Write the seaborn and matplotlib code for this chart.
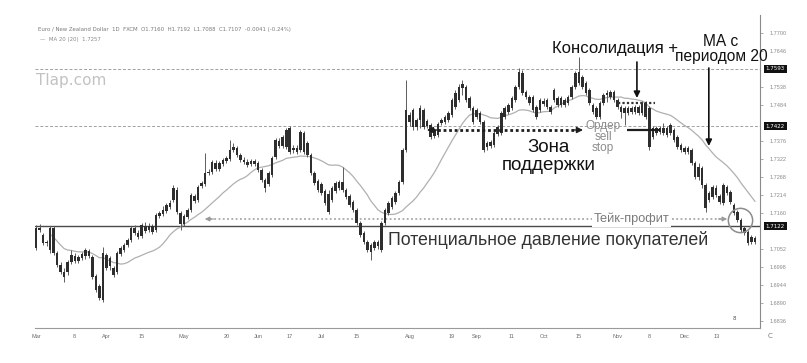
import numpy as np
import pandas as pd
import matplotlib
matplotlib.use("Agg")
import matplotlib.pyplot as plt
import seaborn as sns
from matplotlib.transforms import blended_transform_factory

# ---------------- data (EUR/NZD daily candles) ----------------
opens = [1.7056, 1.7116, 1.7095, 1.7071, 1.7050, 1.7116, 1.7041, 1.7005, 1.6984, 1.6984,
         1.7014, 1.7032, 1.7017, 1.7026, 1.7032, 1.7047, 1.7029, 1.6972, 1.6942, 1.6900,
         1.7035, 1.7002, 1.6996, 1.6984, 1.7038, 1.7050, 1.7065, 1.7080, 1.7116, 1.7101,
         1.7092, 1.7122, 1.7110, 1.7122, 1.7110, 1.7152, 1.7158, 1.7167, 1.7179, 1.7200,
         1.7230, 1.7161, 1.7128, 1.7149, 1.7170, 1.7212, 1.7200, 1.7242, 1.7248, 1.7281,
         1.7284, 1.7311, 1.7293, 1.7308, 1.7317, 1.7323, 1.7350, 1.7356, 1.7335, 1.7320,
         1.7314, 1.7308, 1.7317, 1.7311, 1.7290, 1.7260, 1.7248, 1.7275, 1.7329, 1.7377,
         1.7362, 1.7359, 1.7416, 1.7350, 1.7356, 1.7350, 1.7401, 1.7371, 1.7335, 1.7281,
         1.7257, 1.7248, 1.7227, 1.7218, 1.7200, 1.7227, 1.7236, 1.7254, 1.7230, 1.7212,
         1.7194, 1.7170, 1.7131, 1.7101, 1.7074, 1.7065, 1.7056, 1.7062, 1.7050, 1.7131,
         1.7161, 1.7179, 1.7194, 1.7221, 1.7254, 1.7350, 1.7455, 1.7470, 1.7419, 1.7440,
         1.7470, 1.7422, 1.7425, 1.7410, 1.7395, 1.7431, 1.7434, 1.7440, 1.7455, 1.7479,
         1.7500, 1.7536, 1.7539, 1.7506, 1.7476, 1.7449, 1.7461, 1.7434, 1.7359, 1.7362,
         1.7365, 1.7398, 1.7401, 1.7449, 1.7464, 1.7476, 1.7500, 1.7539, 1.7581, 1.7524,
         1.7509, 1.7509, 1.7479, 1.7470, 1.7497, 1.7500, 1.7479, 1.7500, 1.7506, 1.7485,
         1.7485, 1.7491, 1.7509, 1.7539, 1.7551, 1.7569, 1.7551, 1.7530, 1.7485, 1.7476,
         1.7449, 1.7491, 1.7515, 1.7524, 1.7524, 1.7500, 1.7479, 1.7476, 1.7461, 1.7476,
         1.7464, 1.7479, 1.7461, 1.7491, 1.7476, 1.7389, 1.7416, 1.7404, 1.7416, 1.7416,
         1.7401, 1.7410, 1.7389, 1.7365, 1.7356, 1.7344, 1.7350, 1.7311, 1.7269, 1.7296,
         1.7245, 1.7200, 1.7209, 1.7236, 1.7212, 1.7191, 1.7239, 1.7224, 1.7185, 1.7164,
         1.7140, 1.7116, 1.7104, 1.7089, 1.7086]
closes = [1.7116, 1.7110, 1.7071, 1.7074, 1.7116, 1.7041, 1.7005, 1.6984, 1.6969, 1.7014,
          1.7035, 1.7017, 1.7029, 1.7038, 1.7050, 1.7032, 1.6969, 1.6930, 1.6906, 1.7041,
          1.6996, 1.7026, 1.6975, 1.7041, 1.7056, 1.7065, 1.7080, 1.7116, 1.7101, 1.7089,
          1.7125, 1.7107, 1.7122, 1.7104, 1.7155, 1.7161, 1.7170, 1.7185, 1.7191, 1.7236,
          1.7164, 1.7128, 1.7152, 1.7170, 1.7215, 1.7197, 1.7239, 1.7251, 1.7281, 1.7284,
          1.7314, 1.7293, 1.7311, 1.7320, 1.7326, 1.7350, 1.7359, 1.7335, 1.7320, 1.7314,
          1.7305, 1.7317, 1.7308, 1.7290, 1.7260, 1.7236, 1.7281, 1.7326, 1.7380, 1.7362,
          1.7389, 1.7410, 1.7344, 1.7356, 1.7344, 1.7404, 1.7344, 1.7335, 1.7281, 1.7251,
          1.7230, 1.7221, 1.7191, 1.7164, 1.7236, 1.7251, 1.7254, 1.7230, 1.7209, 1.7185,
          1.7170, 1.7131, 1.7095, 1.7074, 1.7050, 1.7044, 1.7074, 1.7074, 1.7131, 1.7170,
          1.7191, 1.7206, 1.7221, 1.7254, 1.7350, 1.7470, 1.7434, 1.7419, 1.7440, 1.7476,
          1.7419, 1.7437, 1.7389, 1.7392, 1.7428, 1.7440, 1.7449, 1.7461, 1.7500, 1.7521,
          1.7539, 1.7548, 1.7500, 1.7476, 1.7434, 1.7470, 1.7434, 1.7350, 1.7371, 1.7374,
          1.7401, 1.7419, 1.7461, 1.7476, 1.7485, 1.7506, 1.7539, 1.7584, 1.7521, 1.7509,
          1.7491, 1.7470, 1.7449, 1.7500, 1.7488, 1.7479, 1.7464, 1.7530, 1.7485, 1.7506,
          1.7500, 1.7509, 1.7539, 1.7581, 1.7584, 1.7539, 1.7521, 1.7491, 1.7464, 1.7449,
          1.7491, 1.7515, 1.7521, 1.7509, 1.7500, 1.7479, 1.7464, 1.7461, 1.7476, 1.7464,
          1.7479, 1.7461, 1.7491, 1.7449, 1.7359, 1.7416, 1.7401, 1.7416, 1.7401, 1.7395,
          1.7425, 1.7380, 1.7359, 1.7350, 1.7344, 1.7356, 1.7311, 1.7269, 1.7299, 1.7245,
          1.7176, 1.7221, 1.7239, 1.7215, 1.7194, 1.7245, 1.7221, 1.7194, 1.7161, 1.7140,
          1.7110, 1.7101, 1.7071, 1.7074, 1.7074]
highs = [1.7125, 1.7128, 1.7101, 1.7080, 1.7122, 1.7122, 1.7047, 1.7014, 1.6996, 1.7020,
         1.7050, 1.7041, 1.7035, 1.7044, 1.7056, 1.7053, 1.7035, 1.6978, 1.6948, 1.7059,
         1.7041, 1.7032, 1.7002, 1.7047, 1.7062, 1.7071, 1.7086, 1.7122, 1.7125, 1.7110,
         1.7131, 1.7134, 1.7131, 1.7128, 1.7161, 1.7167, 1.7182, 1.7191, 1.7200, 1.7245,
         1.7239, 1.7167, 1.7158, 1.7176, 1.7221, 1.7218, 1.7245, 1.7257, 1.7341, 1.7293,
         1.7320, 1.7320, 1.7317, 1.7326, 1.7332, 1.7380, 1.7371, 1.7362, 1.7341, 1.7329,
         1.7323, 1.7323, 1.7323, 1.7317, 1.7296, 1.7266, 1.7287, 1.7332, 1.7386, 1.7386,
         1.7395, 1.7416, 1.7422, 1.7365, 1.7365, 1.7410, 1.7407, 1.7377, 1.7341, 1.7287,
         1.7263, 1.7254, 1.7233, 1.7230, 1.7242, 1.7257, 1.7260, 1.7299, 1.7236, 1.7218,
         1.7200, 1.7176, 1.7137, 1.7107, 1.7080, 1.7071, 1.7080, 1.7080, 1.7137, 1.7176,
         1.7197, 1.7212, 1.7227, 1.7260, 1.7356, 1.7560, 1.7464, 1.7476, 1.7446, 1.7485,
         1.7476, 1.7443, 1.7431, 1.7416, 1.7434, 1.7446, 1.7455, 1.7467, 1.7506, 1.7530,
         1.7548, 1.7560, 1.7545, 1.7512, 1.7482, 1.7476, 1.7467, 1.7440, 1.7377, 1.7380,
         1.7407, 1.7425, 1.7467, 1.7482, 1.7491, 1.7512, 1.7545, 1.7596, 1.7590, 1.7530,
         1.7515, 1.7515, 1.7485, 1.7506, 1.7506, 1.7506, 1.7485, 1.7536, 1.7512, 1.7512,
         1.7506, 1.7515, 1.7545, 1.7587, 1.7629, 1.7575, 1.7557, 1.7536, 1.7491, 1.7482,
         1.7497, 1.7521, 1.7530, 1.7530, 1.7530, 1.7506, 1.7485, 1.7482, 1.7482, 1.7482,
         1.7485, 1.7485, 1.7497, 1.7497, 1.7482, 1.7422, 1.7422, 1.7422, 1.7431, 1.7422,
         1.7431, 1.7416, 1.7395, 1.7371, 1.7362, 1.7362, 1.7356, 1.7317, 1.7311, 1.7302,
         1.7251, 1.7227, 1.7245, 1.7245, 1.7218, 1.7251, 1.7245, 1.7230, 1.7191, 1.7170,
         1.7146, 1.7122, 1.7110, 1.7095, 1.7092]
lows = [1.7050, 1.7104, 1.7065, 1.7062, 1.7041, 1.7035, 1.6999, 1.6978, 1.6954, 1.6975,
        1.7008, 1.7011, 1.7011, 1.7020, 1.7023, 1.7026, 1.6963, 1.6924, 1.6900, 1.6894,
        1.6990, 1.6990, 1.6969, 1.6978, 1.7032, 1.7044, 1.7059, 1.7074, 1.7095, 1.7083,
        1.7086, 1.7101, 1.7104, 1.7098, 1.7104, 1.7146, 1.7152, 1.7161, 1.7173, 1.7194,
        1.7158, 1.7110, 1.7122, 1.7143, 1.7164, 1.7191, 1.7194, 1.7236, 1.7242, 1.7275,
        1.7278, 1.7287, 1.7287, 1.7302, 1.7311, 1.7317, 1.7344, 1.7329, 1.7314, 1.7308,
        1.7299, 1.7302, 1.7302, 1.7284, 1.7254, 1.7224, 1.7242, 1.7269, 1.7323, 1.7356,
        1.7356, 1.7353, 1.7338, 1.7341, 1.7338, 1.7344, 1.7338, 1.7329, 1.7275, 1.7245,
        1.7224, 1.7215, 1.7185, 1.7158, 1.7194, 1.7221, 1.7230, 1.7224, 1.7203, 1.7179,
        1.7164, 1.7125, 1.7089, 1.7068, 1.7044, 1.7020, 1.7050, 1.7053, 1.7044, 1.7125,
        1.7155, 1.7173, 1.7188, 1.7215, 1.7248, 1.7344, 1.7422, 1.7410, 1.7410, 1.7416,
        1.7413, 1.7416, 1.7383, 1.7386, 1.7389, 1.7425, 1.7428, 1.7434, 1.7449, 1.7473,
        1.7494, 1.7515, 1.7494, 1.7470, 1.7428, 1.7443, 1.7428, 1.7344, 1.7350, 1.7356,
        1.7359, 1.7392, 1.7395, 1.7443, 1.7458, 1.7470, 1.7494, 1.7533, 1.7515, 1.7503,
        1.7485, 1.7464, 1.7443, 1.7464, 1.7482, 1.7473, 1.7458, 1.7494, 1.7479, 1.7479,
        1.7479, 1.7485, 1.7503, 1.7533, 1.7545, 1.7533, 1.7515, 1.7485, 1.7458, 1.7443,
        1.7443, 1.7485, 1.7494, 1.7503, 1.7494, 1.7473, 1.7446, 1.7425, 1.7455, 1.7458,
        1.7458, 1.7455, 1.7455, 1.7443, 1.7350, 1.7383, 1.7395, 1.7398, 1.7395, 1.7389,
        1.7395, 1.7374, 1.7353, 1.7344, 1.7338, 1.7338, 1.7305, 1.7263, 1.7260, 1.7236,
        1.7164, 1.7194, 1.7203, 1.7209, 1.7188, 1.7185, 1.7215, 1.7188, 1.7155, 1.7134,
        1.7104, 1.7095, 1.7065, 1.7068, 1.7068]

date_tick_pos = [0, 11, 20, 30, 42, 54, 63, 72, 81, 91, 106, 118, 125, 135, 144, 154, 165, 174, 184, 193]
date_tick_labels = ["Mar", "8", "Apr", "15", "May", "20", "Jun", "17", "Jul", "15",
                    "Aug", "19", "Sep", "11", "Oct", "15", "Nov", "8", "Dec", "13"]
price_ticks = [1.7700, 1.7646, 1.7538, 1.7484, 1.7376, 1.7322, 1.7268, 1.7214, 1.7160,
               1.7052, 1.6998, 1.6944, 1.6890, 1.6836]
highlight_levels = [1.7593, 1.7422, 1.7122]

# annotation levels (prices) and spans (candle index)
resistance = 1.7593
mid_level = 1.7422
support_line = 1.7122
take_profit = 1.7143
support_zone = 1.7410
consolidation = 1.7491
sell_stop = 1.7410

# ---------------- figure ----------------
sns.set_theme(style="white")
plt.rcParams["font.family"] = ["Liberation Sans", "DejaVu Sans"]

W, H = 807, 363
fig = plt.figure(figsize=(W / 100, H / 100), dpi=100)
fig.patch.set_facecolor("white")
ax = fig.add_axes([35 / W, 1 - 328 / H, 725 / W, 313 / H])
ax.set_facecolor("white")

df = pd.DataFrame({"open": opens, "high": highs, "low": lows, "close": closes})
df["idx"] = np.arange(len(df))
df["ma20"] = df["close"].rolling(20, min_periods=1).mean()
body_lo = df[["open", "close"]].min(axis=1)
body_h = (df["open"] - df["close"]).abs().clip(lower=0.00035)

ax.vlines(df["idx"], df["low"], df["high"], color="#5c5c5c", lw=0.7, zorder=3)
ax.bar(df["idx"], body_h, bottom=body_lo, width=0.72, color="#2e2e2e",
       edgecolor="none", zorder=4)
sns.lineplot(data=df.iloc[4:], x="idx", y="ma20", ax=ax, color="#b0b0b0",
             lw=0.9, zorder=2)

# horizontal levels
ax.axhline(resistance, color="#a0a0a0", lw=0.7, ls=(0, (3, 2)), zorder=1)
ax.axhline(mid_level, color="#a0a0a0", lw=0.7, ls=(0, (3, 2)), zorder=1)
ax.axhline(support_line, color="#4a4a4a", lw=1.0, zorder=1)

# take-profit dotted arrow
tp_l, tp_r = 47.9, 196.1
ax.hlines(take_profit, tp_l + 1.5, tp_r - 1.5, colors="#9a9a9a", lw=1.1,
          linestyles=(0, (1.2, 1.6)), zorder=2)
for x0, x1 in [(tp_l + 2.5, tp_l), (tp_r - 2.5, tp_r)]:
    ax.annotate("", xy=(x1, take_profit), xytext=(x0, take_profit),
                arrowprops=dict(arrowstyle="-|>", color="#9a9a9a", lw=0.8,
                                mutation_scale=7, shrinkA=0, shrinkB=0))
ax.text((tp_l + tp_r) / 2 + 47, take_profit, "Тейк-профит", fontsize=9.2,
        color="#7a7a7a", ha="center", va="center", zorder=6,
        bbox=dict(facecolor="white", edgecolor="none", pad=1.0))

# support zone dotted double arrow
sz_l, sz_r = 110.9, 155.2
ax.hlines(support_zone, sz_l + 1.5, sz_r - 1.5, colors="#1e1e1e", lw=2.0,
          linestyles=(0, (1, 1)), zorder=5)
for x0, x1 in [(sz_l + 3, sz_l), (sz_r - 3, sz_r)]:
    ax.annotate("", xy=(x1, support_zone), xytext=(x0, support_zone),
                arrowprops=dict(arrowstyle="-|>", color="#1e1e1e", lw=1.0,
                                mutation_scale=9, shrinkA=0, shrinkB=0), zorder=5)

# consolidation dotted line and sell-stop line
ax.hlines(consolidation, 165.1, 175.6, colors="#333333", lw=1.6,
          linestyles=(0, (1, 1)), zorder=5)
ax.hlines(sell_stop, 167.7, 177.0, colors="#1e1e1e", lw=1.6, zorder=5)

# down arrows
ax.annotate("", xy=(170.5, 1.7506), xytext=(170.5, 1.7614),
            arrowprops=dict(arrowstyle="-|>", color="#111111", lw=1.2,
                            mutation_scale=9, shrinkA=0, shrinkB=0), zorder=6)
ax.annotate("", xy=(190.9, 1.7362), xytext=(190.9, 1.7596),
            arrowprops=dict(arrowstyle="-|>", color="#111111", lw=1.2,
                            mutation_scale=9, shrinkA=0, shrinkB=0), zorder=6)

# circle at take-profit hit
ax.plot([199.7], [1.7140], marker="o", ms=17.5, mfc="none", mec="#8c8c8c",
        mew=1.1, zorder=6)

# axes styling
ax.set_xlim(-0.284, 205.42)
ax.set_ylim(1.78 - 0.0003 * 328, 1.78 - 0.0003 * 15)
ax.set_xlabel("")
ax.set_ylabel("")
for s in ["top", "left"]:
    ax.spines[s].set_visible(False)
ax.spines["right"].set_color("#8a8a8a")
ax.spines["right"].set_linewidth(0.8)
ax.spines["bottom"].set_color("#9a9a9a")
ax.spines["bottom"].set_linewidth(0.8)
ax.spines["bottom"].set_linestyle((0, (2, 1)))
ax.yaxis.tick_right()
ax.set_yticks(price_ticks)
ax.set_yticklabels([f"{p:.4f}" for p in price_ticks])
ax.tick_params(axis="y", labelsize=4, colors="#8a8a8a", length=2, width=0.5,
               pad=5, right=True, left=False)
ax.set_xticks(date_tick_pos)
ax.set_xticklabels(date_tick_labels)
ax.tick_params(axis="x", labelsize=4, colors="#6a6a6a", length=0, pad=4)
ax.grid(False)

trans = blended_transform_factory(ax.transAxes, ax.transData)
for lv in highlight_levels:
    ax.text(1.008, lv, f"{lv:.4f}", transform=trans, fontsize=4, color="white",
            ha="left", va="center", family=["DejaVu Sans"],
            bbox=dict(facecolor="#111111", edgecolor="none", pad=1.2), zorder=7,
            clip_on=False)

# ---------------- texts (figure coordinates) ----------------
def fp(x, y):
    return x / W, 1 - y / H

fig.text(*fp(38, 29), "Euro / New Zealand Dollar  1D  FXCM  O1.7160  H1.7192  L1.7088  "
         "C1.7107  -0.0041 (-0.24%)", fontsize=3.9, color="#7a7a7a",
         va="center", family=["DejaVu Sans"])
fig.text(*fp(40, 39), "—  MA 20 (20)  1.7257", fontsize=3.9, color="#8a8a8a",
         va="center", family=["DejaVu Sans"])
fig.text(*fp(36, 81), "Tlap.com", fontsize=11, color="#c2c2c2", va="center",
         family=["DejaVu Sans"])

fig.text(*fp(615, 48), "Консолидация +", fontsize=12, color="#111111",
         ha="center", va="center")
fig.text(*fp(721, 42), "МА с", fontsize=11.2, color="#111111", ha="center", va="center")
fig.text(*fp(721, 57), "периодом 20", fontsize=11.2, color="#111111",
         ha="center", va="center")
fig.text(*fp(549, 148), "Зона", fontsize=13.5, color="#111111", ha="center", va="center")
fig.text(*fp(549, 166), "поддержки", fontsize=13.5, color="#111111",
         ha="center", va="center")
fig.text(*fp(603, 126), "Ордер", fontsize=8.5, color="#8c8c8c", ha="center", va="center")
fig.text(*fp(603, 137), "sell", fontsize=8.5, color="#8c8c8c", ha="center", va="center")
fig.text(*fp(603, 148), "stop", fontsize=8.5, color="#8c8c8c", ha="center", va="center")
fig.text(*fp(388, 240), "Потенциальное давление покупателей", fontsize=12.8,
         color="#333333", ha="left", va="center")
fig.text(*fp(770, 336), "C", fontsize=5, color="#777777", ha="center", va="center",
         family=["DejaVu Sans"])
fig.text(*fp(734, 319), "8", fontsize=4, color="#555555", ha="center", va="center",
         family=["DejaVu Sans"])

fig.savefig("out.png", dpi=100, facecolor="white")
